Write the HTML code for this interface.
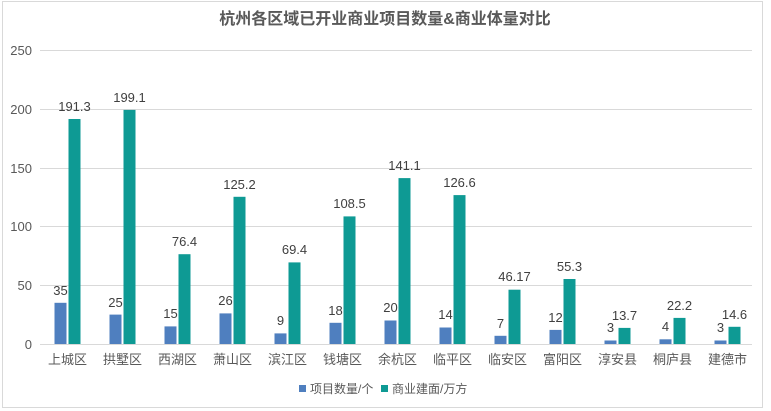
<!DOCTYPE html>
<html><head><meta charset="utf-8"><style>
html,body{margin:0;padding:0;background:#fff;}
svg{display:block;font-family:"Liberation Sans","Noto Sans CJK SC",sans-serif;}
</style></head><body>
<svg width="771" height="411" viewBox="0 0 771 411" xmlns="http://www.w3.org/2000/svg">
<rect x="0" y="0" width="771" height="411" fill="#fff"/>
<rect x="2.5" y="1.5" width="760" height="406" fill="none" stroke="#d9d9d9"/>
<text x="385" y="24" text-anchor="middle" font-size="16" font-weight="bold" fill="#595959">杭州各区域已开业商业项目数量&amp;商业体量对比</text>
<g stroke="#d9d9d9" stroke-width="1">
<line x1="40" x2="752" y1="50.5" y2="50.5"/>
<line x1="40" x2="752" y1="109.5" y2="109.5"/>
<line x1="40" x2="752" y1="168.5" y2="168.5"/>
<line x1="40" x2="752" y1="226.5" y2="226.5"/>
<line x1="40" x2="752" y1="285.5" y2="285.5"/>
<line x1="40" x2="752" y1="344.5" y2="344.5"/>
</g>
<g font-size="13" fill="#595959" text-anchor="end">
<text x="32" y="55">250</text><text x="32" y="114">200</text><text x="32" y="173">150</text>
<text x="32" y="231">100</text><text x="32" y="290">50</text><text x="32" y="349">0</text>
</g>
<g fill="#4f7fbf">
<rect x="54.5" y="302.8" width="12" height="41.2"/>
<rect x="109.5" y="314.6" width="12" height="29.4"/>
<rect x="164.5" y="326.4" width="12" height="17.6"/>
<rect x="219.5" y="313.4" width="12" height="30.6"/>
<rect x="274.5" y="333.4" width="12" height="10.6"/>
<rect x="329.5" y="322.8" width="12" height="21.2"/>
<rect x="384.5" y="320.5" width="12" height="23.5"/>
<rect x="439.5" y="327.5" width="12" height="16.5"/>
<rect x="494.5" y="335.8" width="12" height="8.2"/>
<rect x="549.5" y="329.9" width="12" height="14.1"/>
<rect x="604.5" y="340.5" width="12" height="3.5"/>
<rect x="659.5" y="339.3" width="12" height="4.7"/>
<rect x="714.5" y="340.5" width="12" height="3.5"/>
</g>
<g fill="#0e9a94">
<rect x="68.5" y="119.0" width="12" height="225.0"/>
<rect x="123.5" y="109.9" width="12" height="234.1"/>
<rect x="178.5" y="254.2" width="12" height="89.8"/>
<rect x="233.5" y="196.8" width="12" height="147.2"/>
<rect x="288.5" y="262.4" width="12" height="81.6"/>
<rect x="343.5" y="216.4" width="12" height="127.6"/>
<rect x="398.5" y="178.1" width="12" height="165.9"/>
<rect x="453.5" y="195.1" width="12" height="148.9"/>
<rect x="508.5" y="289.7" width="12" height="54.3"/>
<rect x="563.5" y="279.0" width="12" height="65.0"/>
<rect x="618.5" y="327.9" width="12" height="16.1"/>
<rect x="673.5" y="317.9" width="12" height="26.1"/>
<rect x="728.5" y="326.8" width="12" height="17.2"/>
</g>
<g font-size="13" fill="#404040" text-anchor="middle">
<text x="60.5" y="295">35</text><text x="115.5" y="307">25</text><text x="170.5" y="318">15</text>
<text x="225.5" y="305">26</text><text x="280.5" y="325">9</text><text x="335.5" y="315">18</text>
<text x="390.5" y="312">20</text><text x="445.5" y="319">14</text><text x="500.5" y="328">7</text>
<text x="555.5" y="322">12</text><text x="610.5" y="332">3</text><text x="665.5" y="331">4</text>
<text x="720.5" y="332">3</text>
<text x="74.5" y="111">191.3</text><text x="129.5" y="102">199.1</text><text x="184.5" y="246">76.4</text>
<text x="239.5" y="189">125.2</text><text x="294.5" y="254">69.4</text><text x="349.5" y="208">108.5</text>
<text x="404.5" y="170">141.1</text><text x="459.5" y="187">126.6</text><text x="514.5" y="281">46.17</text>
<text x="569.5" y="271">55.3</text><text x="624.5" y="320">13.7</text><text x="679.5" y="310">22.2</text>
<text x="734.5" y="319">14.6</text>
</g>
<g font-size="13" fill="#595959" text-anchor="middle">
<text x="67.5" y="364">上城区</text><text x="122.5" y="364">拱墅区</text><text x="177.5" y="364">西湖区</text>
<text x="232.5" y="364">萧山区</text><text x="287.5" y="364">滨江区</text><text x="342.5" y="364">钱塘区</text>
<text x="397.5" y="364">余杭区</text><text x="452.5" y="364">临平区</text><text x="507.5" y="364">临安区</text>
<text x="562.5" y="364">富阳区</text><text x="617.5" y="364">淳安县</text><text x="672.5" y="364">桐庐县</text>
<text x="727.5" y="364">建德市</text>
</g>
<g font-size="12" fill="#595959">
<rect x="299" y="385" width="7" height="7" fill="#4f7fbf"/><text x="310" y="393">项目数量/个</text>
<rect x="381" y="385" width="7" height="7" fill="#0e9a94"/><text x="392" y="393">商业建面/万方</text>
</g>
</svg>
</body></html>
